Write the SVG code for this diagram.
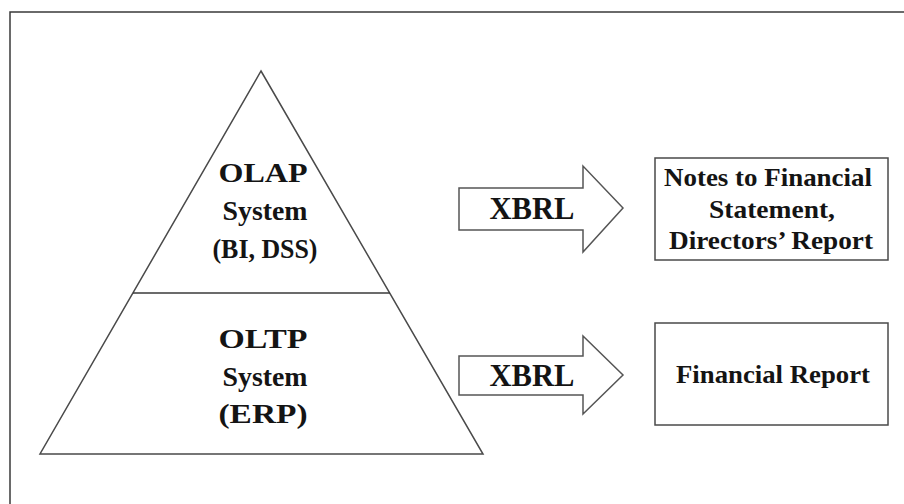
<svg xmlns="http://www.w3.org/2000/svg" width="904" height="504" viewBox="0 0 904 504">
<style>
.ln{fill:none;stroke:#3a3a3a;stroke-width:1.5}
.shape{fill:#fff;stroke:#4a4a4a;stroke-width:1.5}
.arrow{fill:#fff;stroke:#555;stroke-width:1.5;stroke-linejoin:miter}
.t{font-family:"Liberation Serif","Times New Roman",serif;font-weight:bold;fill:#141414;text-anchor:middle}
.big{font-size:28px}
.xb{font-size:31px}
.sm{font-size:25px}
</style>
<rect width="904" height="504" fill="#fff"/>
<g id="frame">
<polyline class="ln" points="10,504 10,12 904,12"/>
</g>
<g id="pyramid">
<polygon class="shape" points="261,71 483,454 40,454"/>
<line class="ln" x1="133" y1="293" x2="390" y2="293"/>
</g>
<g id="olap">
<text class="t big" x="263" y="182" textLength="89" lengthAdjust="spacingAndGlyphs">OLAP</text>
<text class="t big" x="265" y="220" textLength="85" lengthAdjust="spacingAndGlyphs">System</text>
<text class="t big" x="265" y="258" textLength="105" lengthAdjust="spacingAndGlyphs">(BI, DSS)</text>
</g>
<g id="oltp">
<text class="t big" x="263" y="348" textLength="89" lengthAdjust="spacingAndGlyphs">OLTP</text>
<text class="t big" x="265" y="386" textLength="85" lengthAdjust="spacingAndGlyphs">System</text>
<text class="t big" x="263" y="423" textLength="89" lengthAdjust="spacingAndGlyphs">(ERP)</text>
</g>
<g id="connectors">
<g id="arrow1">
<polygon class="arrow" points="459,188 583,188 583,166 623,208 583,252 583,230 459,230"/>
<text class="t xb" x="532" y="219" textLength="85" lengthAdjust="spacingAndGlyphs">XBRL</text>
</g>
<g id="arrow2">
<polygon class="arrow" points="459,356 583,356 583,336 623,375 583,414 583,395 459,395"/>
<text class="t xb" x="532" y="386" textLength="85" lengthAdjust="spacingAndGlyphs">XBRL</text>
</g>
</g>
<g id="notes">
<rect class="shape" x="655" y="158" width="233" height="102"/>
<text class="t sm" x="768" y="186" textLength="208" lengthAdjust="spacingAndGlyphs">Notes to Financial</text>
<text class="t sm" x="772" y="218" textLength="126" lengthAdjust="spacingAndGlyphs">Statement,</text>
<text class="t sm" x="771" y="249" textLength="204" lengthAdjust="spacingAndGlyphs">Directors’ Report</text>
</g>
<g id="financial">
<rect class="shape" x="655" y="323" width="233" height="102"/>
<text class="t sm" x="773" y="383" textLength="194" lengthAdjust="spacingAndGlyphs">Financial Report</text>
</g>
</svg>
